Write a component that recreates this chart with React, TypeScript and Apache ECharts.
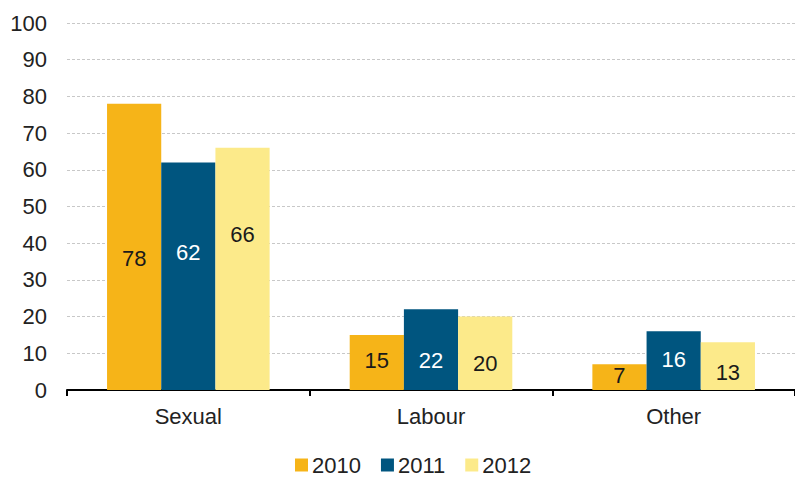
import React, { useEffect, useRef } from "react";
import * as echarts from "echarts";

const categories = ["Sexual", "Labour", "Other"];
const years = ["2010", "2011", "2012"];
const values2010 = [78, 15, 7];
const values2011 = [62, 22, 16];
const values2012 = [66, 20, 13];
const colors = ["#F6B418", "#00557F", "#FCEA8A"];
const labelColors = ["#1a1a1a", "#ffffff", "#1a1a1a"];
// vertical nudges of the value labels relative to bar centre (per year, per category)
const labelShift = [
  [12, -2, -2],
  [-24, 11, -1],
  [-34, 10, 6],
];

export default function App() {
  const ref = useRef<HTMLDivElement>(null);
  useEffect(() => {
    if (!ref.current) return;
    const chart = echarts.init(ref.current, null, { renderer: "svg" });
    const font = "Liberation Sans, Arial, sans-serif";
    const seriesData = [values2010, values2011, values2012];
    chart.setOption({
      animation: false,
      textStyle: { fontFamily: font },
      grid: { left: 67, right: -8, top: 23, bottom: 89, containLabel: false },
      legend: {
        left: 295,
        top: 454,
        padding: 0,
        itemWidth: 13,
        itemHeight: 13,
        itemGap: 20,
        icon: "rect",
        textStyle: {
          fontSize: 22,
          lineHeight: 22,
          color: "#222",
          fontFamily: font,
          padding: [0, 0, 0, -1],
        },
        data: years,
      },
      xAxis: {
        type: "category",
        data: categories,
        axisLine: { lineStyle: { color: "#000", width: 2 } },
        axisTick: { show: true, length: 6, lineStyle: { color: "#000", width: 2 } },
        axisLabel: { fontSize: 22, color: "#222", margin: 15, fontFamily: font },
      },
      yAxis: {
        type: "value",
        min: 0,
        max: 100,
        interval: 10,
        axisLine: { show: false },
        axisTick: { show: false },
        axisLabel: { fontSize: 22, color: "#222", margin: 20, fontFamily: font },
        splitLine: { lineStyle: { color: "#c8c8c8", type: [3, 2], width: 1 } },
      },
      series: years.map((y, i) => ({
        name: y,
        type: "bar",
        data: seriesData[i].map((v, j) => ({
          value: v,
          label: { offset: [0, labelShift[i][j]] },
        })),
        barGap: "0%",
        barCategoryGap: "33%",
        itemStyle: { color: colors[i] },
        label: {
          show: true,
          position: "inside",
          fontSize: 22,
          color: labelColors[i],
          fontFamily: font,
        },
      })),
    });
    return () => chart.dispose();
  }, []);
  return (
    <div
      ref={ref}
      style={{ position: "absolute", left: 0, top: 0, width: 795, height: 479, background: "#fff" }}
    />
  );
}
